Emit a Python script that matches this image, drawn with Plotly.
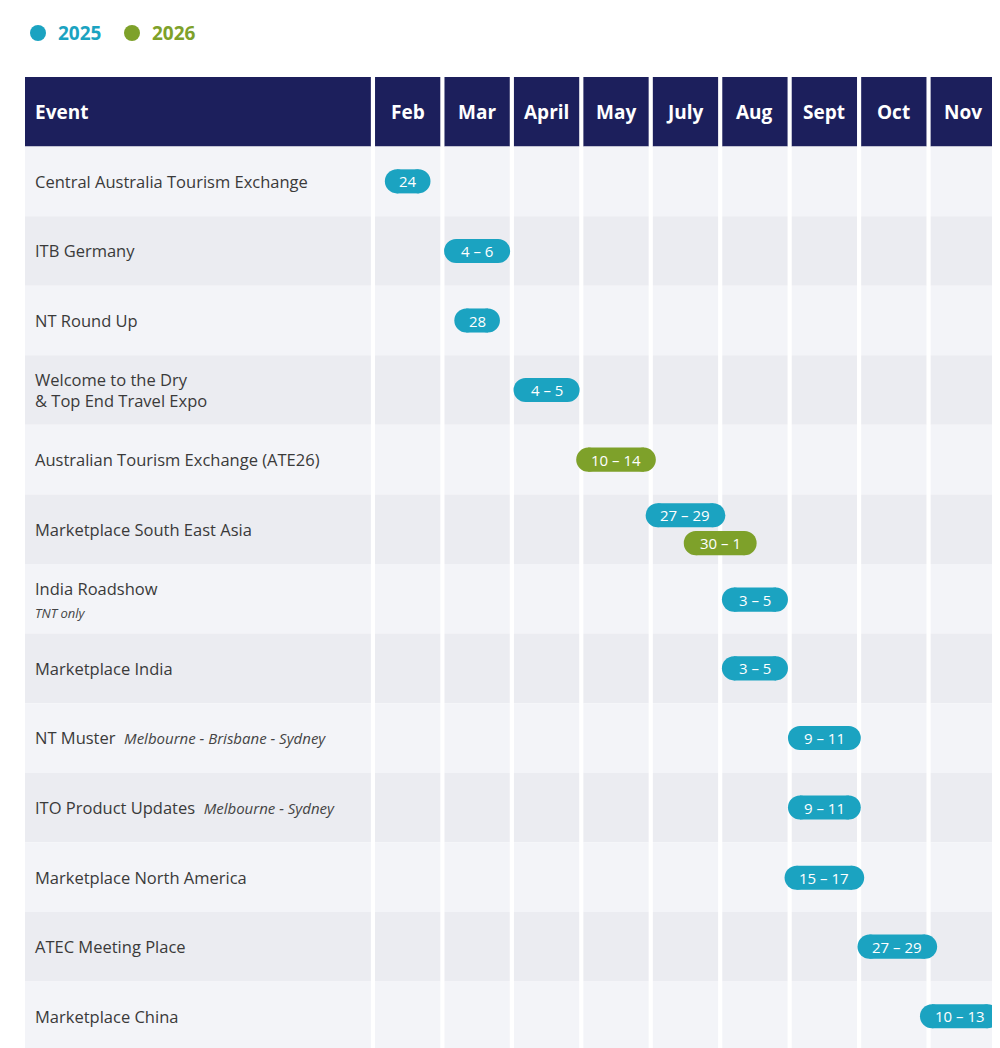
import plotly.graph_objects as go

months = ["Feb", "Mar", "April", "May", "July", "Aug", "Sept", "Oct", "Nov"]
events = ["Central Australia Tourism Exchange", "ITB Germany", "NT Round Up",
          "Welcome to the Dry<br>& Top End Travel Expo", "Australian Tourism Exchange (ATE26)",
          "Marketplace South East Asia", "India Roadshow", "Marketplace India", "NT Muster",
          "ITO Product Updates", "Marketplace North America", "ATEC Meeting Place", "Marketplace China"]
event_notes = ["", "", "", "", "", "", "TNT only", "", "Melbourne - Brisbane - Sydney",
               "Melbourne - Sydney", "", "", ""]
note_inline = [False, False, False, False, False, False, False, False, True, True, False, False, False]
# pills: row index, month position (column index, .5 = boundary), label, year, vertical slot
pill_rows = [0, 1, 2, 3, 4, 5, 5, 6, 7, 8, 9, 10, 11, 12]
pill_month = [0, 1, 1, 2, 3, 4, 4.5, 5, 5, 6, 6, 6, 7.05, 7.95]
pill_labels = ["24", "4 – 6", "28", "4 – 5", "10 – 14", "27 – 29", "30 – 1", "3 – 5", "3 – 5",
               "9 – 11", "9 – 11", "15 – 17", "27 – 29", "10 – 13"]
pill_years = [2025, 2025, 2025, 2025, 2026, 2025, 2026, 2025, 2025, 2025, 2025, 2025, 2025, 2025]
pill_slot = [0, 0, 0, 0, 0, -1, 1, 0.06, 0, 0, 0, 0.05, 0, 0]

BLUE, GREEN, NAVY = "#1ba3c1", "#7ea12a", "#1c1f5c"
ycol = {2025: BLUE, 2026: GREEN}
FONT = "Open Sans"
PX = 69.4

fig = go.Figure()
fig.add_trace(go.Scatter(x=[0], y=[0], mode="markers", marker=dict(opacity=0), showlegend=False, hoverinfo="skip"))
shapes, ann = [], []
n = len(events)
g = 0.03
shapes.append(dict(type="rect", x0=-5.01, x1=-g, y0=0, y1=1, fillcolor=NAVY, line_width=0, layer="below"))
ann.append(dict(x=-4.9, y=0.5, text="Event", xanchor="left", showarrow=False,
                font=dict(family=FONT, size=19, color="white", weight=700)))
for i, m in enumerate(months):
    shapes.append(dict(type="rect", x0=i + g, x1=i + 1 - g, y0=0, y1=1, fillcolor=NAVY, line_width=0, layer="below"))
    ann.append(dict(x=i + 0.5, y=0.5, text=m, showarrow=False,
                    font=dict(family=FONT, size=19, color="white", weight=700)))
for r in range(n):
    c = "#f3f4f8" if r % 2 == 0 else "#ebecf1"
    y0, y1 = r + 1, r + 2
    shapes.append(dict(type="rect", x0=-5.01, x1=-g, y0=y0, y1=y1, fillcolor=c, line_width=0, layer="below"))
    for i in range(len(months)):
        shapes.append(dict(type="rect", x0=i + g, x1=i + 1 - g, y0=y0, y1=y1, fillcolor=c, line_width=0, layer="below"))
    txt = events[r]
    if event_notes[r] and note_inline[r]:
        txt += "  <i><span style='font-size:15px;color:#444;font-weight:400'>" + event_notes[r] + "</span></i>"
    yy = r + 1.5
    if event_notes[r] and not note_inline[r]:
        yy = r + 1.35
        ann.append(dict(x=-4.9, y=r + 1.7, text="<i>" + event_notes[r] + "</i>", xanchor="left", showarrow=False,
                        font=dict(family=FONT, size=13, color="#444")))
    ann.append(dict(x=-4.9, y=yy, text=txt, xanchor="left", showarrow=False, align="left",
                    font=dict(family=FONT, size=16.5, color="#3a3a3a", weight=500)))
h = 24 / PX
for r, m, lab, yr, s in zip(pill_rows, pill_month, pill_labels, pill_years, pill_slot):
    w = (len(lab) * 6.8 + 32) / PX
    cx, cy = m + 0.5, r + 1.5 + s * 0.2
    col = ycol[yr]
    shapes.append(dict(type="rect", x0=cx - w / 2 + h / 2, x1=cx + w / 2 - h / 2, y0=cy - h / 2, y1=cy + h / 2,
                       fillcolor=col, line_width=0))
    for ex in (cx - w / 2 + h / 2, cx + w / 2 - h / 2):
        shapes.append(dict(type="circle", x0=ex - h / 2, x1=ex + h / 2, y0=cy - h / 2, y1=cy + h / 2,
                           fillcolor=col, line_width=0))
    ann.append(dict(x=cx, y=cy, text=lab, showarrow=False,
                    font=dict(family=FONT, size=15, color="white", weight=500)))
for yr, xp in ((2025, 22), (2026, 116)):
    shapes.append(dict(type="circle", xref="paper", yref="paper", x0=(xp - 17) / 973, x1=(xp + 16 - 17) / 973,
                       y0=(1043 - 33) / 974, y1=(1043 - 17) / 974, fillcolor=ycol[yr], line_width=0))
    ann.append(dict(xref="paper", yref="paper", x=(xp + 26 - 17) / 973, y=(1043 - 25) / 974, text=str(yr),
                    xanchor="left", yanchor="middle", showarrow=False,
                    font=dict(family=FONT, size=19, color=ycol[yr], weight=700)))

fig.update_layout(width=1000, height=1048, margin=dict(l=17, r=10, t=69, b=5, autoexpand=False),
                  plot_bgcolor="white", paper_bgcolor="white", shapes=shapes, annotations=ann,
                  xaxis=dict(range=[-5.01, 9.0], visible=False, fixedrange=True),
                  yaxis=dict(range=[n + 1, 0], visible=False, fixedrange=True), showlegend=False)
fig.write_html("out.html")
